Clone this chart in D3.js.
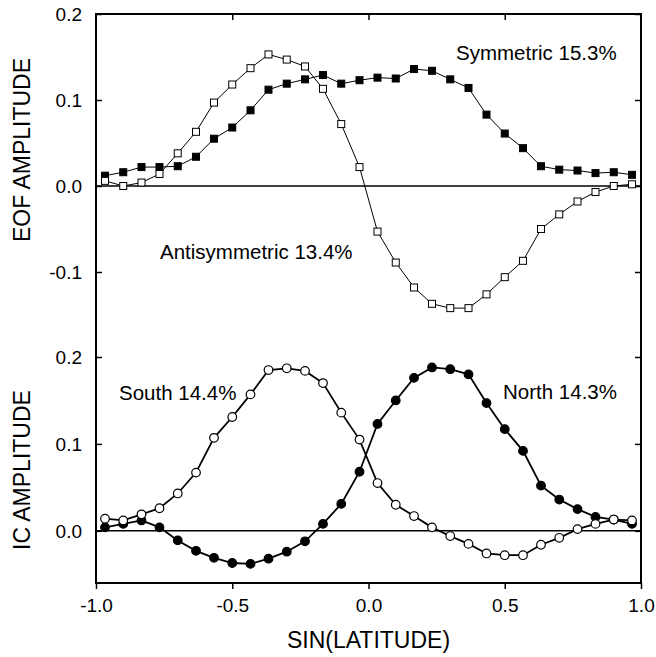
<script src="https://d3js.org/d3.v7.min.js"></script>
<style>
  body { margin: 0; background: #fff; }
  text { font-family: "Liberation Sans", Arial, sans-serif; fill: #000; }
</style>
<svg id="chart"></svg>
<script>
// sin(latitude) grid
const sinLat = [-0.967,-0.900,-0.833,-0.767,-0.700,-0.633,-0.567,-0.500,-0.433,-0.367,
  -0.300,-0.233,-0.167,-0.100,-0.033,0.033,0.100,0.167,0.233,0.300,
  0.367,0.433,0.500,0.567,0.633,0.700,0.767,0.833,0.900,0.967];

// EOF amplitudes (top)
const symmetric = [0.012,0.016,0.022,0.022,0.023,0.034,0.055,0.068,0.088,0.112,
  0.119,0.124,0.129,0.119,0.123,0.126,0.125,0.136,0.134,0.124,
  0.114,0.083,0.061,0.044,0.023,0.019,0.018,0.015,0.016,0.013];
const antisymmetric = [0.006,0.000,0.004,0.014,0.038,0.063,0.097,0.118,0.137,0.153,
  0.147,0.139,0.113,0.072,0.022,-0.053,-0.089,-0.118,-0.137,-0.142,
  -0.142,-0.126,-0.106,-0.087,-0.050,-0.033,-0.018,-0.007,0.000,0.002];

// IC amplitudes (bottom)
const north = [0.004,0.008,0.012,0.004,-0.011,-0.023,-0.031,-0.037,-0.038,-0.032,
  -0.024,-0.012,0.008,0.031,0.068,0.123,0.150,0.176,0.188,0.186,
  0.180,0.147,0.117,0.092,0.052,0.036,0.025,0.016,0.013,0.008];
const south = [0.014,0.012,0.019,0.026,0.043,0.067,0.107,0.131,0.157,0.185,
  0.187,0.184,0.170,0.136,0.105,0.055,0.030,0.017,0.004,-0.006,
  -0.015,-0.026,-0.028,-0.028,-0.016,-0.008,0.002,0.008,0.013,0.012];

const xTicks = [-1.0, -0.5, 0.0, 0.5, 1.0];
const topTicks = [0.2, 0.1, 0.0, -0.1];
const botTicks = [0.2, 0.1, 0.0];

(function() {
  const width = 656;
  const height = 657;
  const left = 96, right = 641, top = 14, bottom = 583;

  const svg = d3.select("#chart")
      .attr("width", width)
      .attr("height", height);

  const x = d3.scaleLinear().domain([-1, 1]).range([left, right]);
  const yTop = d3.scaleLinear().domain([-0.1, 0.2]).range([272, top]);
  const yBot = d3.scaleLinear().domain([-0.06, 0.2]).range([bottom, 357]);

  // ticks: left/right/top inside, bottom outside
  const tickLen = 6;
  svg.append("g").call(d3.axisBottom(x).tickValues(xTicks).tickSize(tickLen).tickFormat(d3.format(".1f")))
      .attr("transform", "translate(0," + bottom + ")")
      .call(g => g.select(".domain").remove())
      .call(g => g.selectAll("line").attr("stroke-width", 1.5))
      .call(g => g.selectAll("text").attr("font-size", 19).attr("dy", "1.05em")
        .text(d => d3.format(".1f")(d).replace("−", "-")));
  svg.append("g").call(d3.axisBottom(x).tickValues([-0.5, 0, 0.5]).tickSize(tickLen).tickFormat(""))
      .attr("transform", "translate(0," + top + ")")
      .call(g => g.select(".domain").remove())
      .call(g => g.selectAll("line").attr("stroke-width", 1.5));

  function yAxes(scale, ticks) {
    svg.append("g").call(d3.axisRight(scale).tickValues(ticks).tickSize(tickLen).tickFormat(""))
        .attr("transform", "translate(" + left + ",0)")
        .call(g => g.select(".domain").remove())
        .call(g => g.selectAll("line").attr("stroke-width", 1.5));
    svg.append("g").call(d3.axisLeft(scale).tickValues(ticks).tickSize(tickLen).tickFormat(""))
        .attr("transform", "translate(" + right + ",0)")
        .call(g => g.select(".domain").remove())
        .call(g => g.selectAll("line").attr("stroke-width", 1.5));
    svg.append("g").selectAll("text")
        .data(ticks)
        .join("text")
        .attr("x", left - 14)
        .attr("y", d => scale(d))
        .attr("dy", "0.36em")
        .attr("text-anchor", "end")
        .attr("font-size", 19)
        .text(d => d3.format(".1f")(d).replace("−", "-"));
    // zero line
    svg.append("line")
        .attr("x1", left).attr("x2", right)
        .attr("y1", scale(0)).attr("y2", scale(0))
        .attr("stroke", "#000").attr("stroke-width", 1.5);
  }
  yAxes(yTop, topTicks);
  yAxes(yBot, botTicks);

  // frame
  svg.append("rect")
      .attr("x", left).attr("y", top)
      .attr("width", right - left).attr("height", bottom - top)
      .attr("fill", "none").attr("stroke", "#000").attr("stroke-width", 2);

  function series(scale, values, lw, marker, filled) {
    const pts = sinLat.map((s, i) => [x(s), scale(values[i])]);
    svg.append("path")
        .attr("d", d3.line()(pts))
        .attr("fill", "none").attr("stroke", "#000").attr("stroke-width", lw);
    const g = svg.append("g");
    if (marker == "square") {
      g.selectAll("rect").data(pts).join("rect")
          .attr("x", d => d[0] - 3.5).attr("y", d => d[1] - 3.5)
          .attr("width", 7).attr("height", 7)
          .attr("fill", filled ? "#000" : "#fff")
          .attr("stroke", "#000").attr("stroke-width", 1);
    } else {
      g.selectAll("circle").data(pts).join("circle")
          .attr("cx", d => d[0]).attr("cy", d => d[1])
          .attr("r", 4.3)
          .attr("fill", filled ? "#000" : "#fff")
          .attr("stroke", "#000").attr("stroke-width", 1.2);
    }
  }
  series(yTop, symmetric, 1, "square", true);
  series(yTop, antisymmetric, 1, "square", false);
  series(yBot, north, 1.8, "circle", true);
  series(yBot, south, 1.8, "circle", false);

  // labels
  const labels = [
    ["Symmetric 15.3%", 456, 60],
    ["Antisymmetric 13.4%", 160, 259],
    ["South 14.4%", 119, 400],
    ["North 14.3%", 503, 399]
  ];
  svg.append("g").selectAll("text")
      .data(labels)
      .join("text")
      .attr("x", d => d[1]).attr("y", d => d[2])
      .attr("font-size", 20.5)
      .text(d => d[0]);

  svg.append("text")
      .attr("x", (left + right) / 2).attr("y", 648)
      .attr("text-anchor", "middle")
      .attr("font-size", 23)
      .text("SIN(LATITUDE)");

  svg.append("text")
      .attr("transform", "translate(30,150) rotate(-90)")
      .attr("text-anchor", "middle")
      .attr("font-size", 23)
      .text("EOF AMPLITUDE");
  svg.append("text")
      .attr("transform", "translate(30,470) rotate(-90)")
      .attr("text-anchor", "middle")
      .attr("font-size", 23)
      .text("IC AMPLITUDE");
})();
</script>
